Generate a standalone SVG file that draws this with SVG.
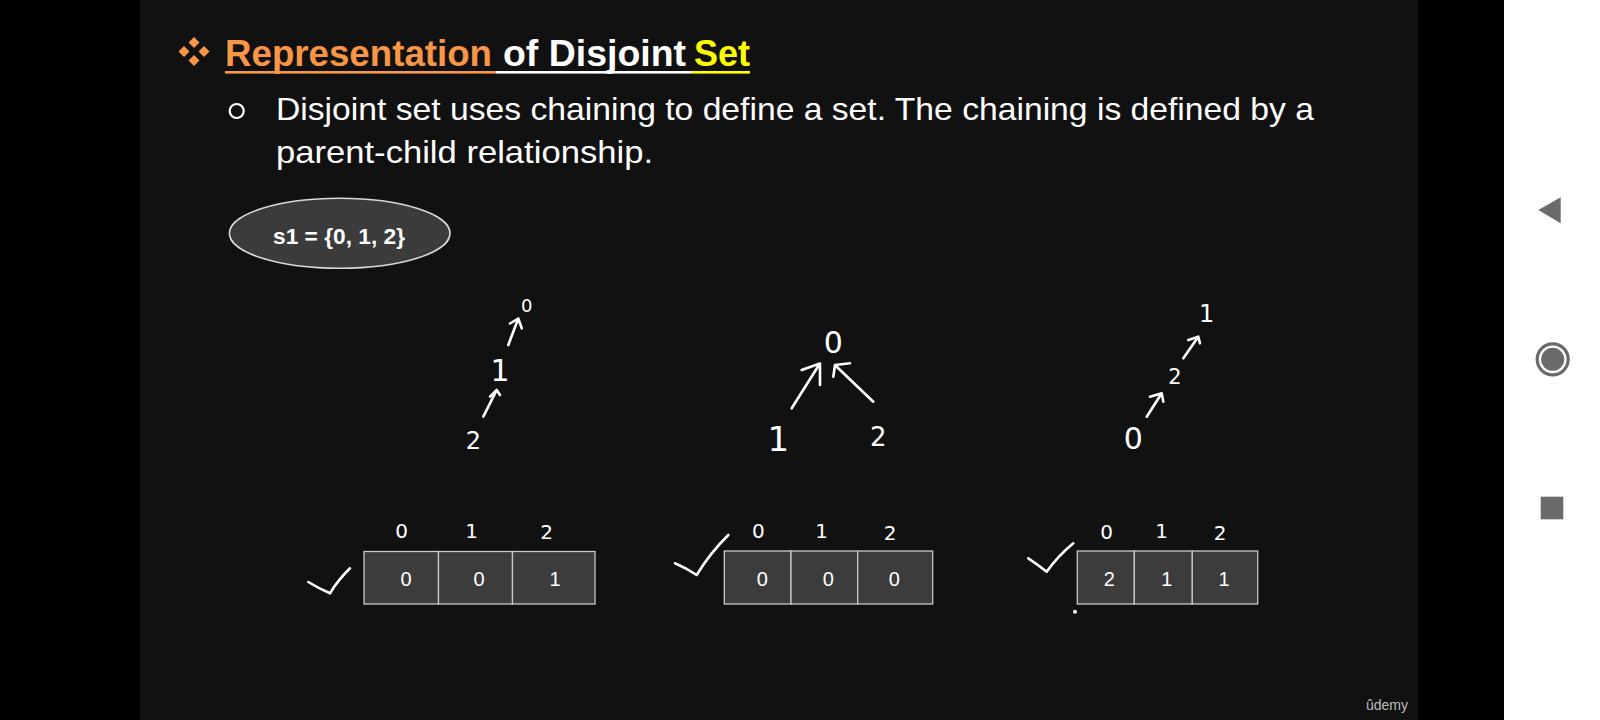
<svg xmlns="http://www.w3.org/2000/svg" width="1600" height="720" viewBox="0 0 1600 720">
  <defs>
    <style>
      .title { font-family: "Liberation Sans", Arial, sans-serif; font-weight: bold; font-size: 37px; }
      .body { font-family: "Liberation Sans", Arial, sans-serif; font-size: 32px; fill: #ffffff; }
      .cell { fill: #3c3c3c; stroke: #c8c8c8; stroke-width: 1.3; }
      .val { font-family: "Liberation Sans", Arial, sans-serif; font-size: 20px; fill: #ffffff; text-anchor: middle; }
      .hand { font-family: "DejaVu Sans", "Liberation Sans", sans-serif; fill: #ffffff; text-anchor: middle; font-weight: normal; }
      .ink { fill: none; stroke: #ffffff; stroke-width: 2.6; stroke-linecap: round; stroke-linejoin: round; }
      .nav { fill: #6a6a6a; }
      .dia { fill: #f79646; }
    </style>
  </defs>

  <!-- backgrounds -->
  <rect x="0" y="0" width="1600" height="720" fill="#000000"/>
  <rect x="140" y="0" width="1278" height="720" fill="#111111"/>
  <rect x="1504" y="0" width="96" height="720" fill="#ffffff"/>

  <!-- title -->
  <g id="title">
    <path class="dia" d="M194 37 L199.5 42.5 L194 48 L188.5 42.5 Z"/>
    <path class="dia" d="M184 46 L189.5 51.5 L184 57 L178.5 51.5 Z"/>
    <path class="dia" d="M204 46 L209.5 51.5 L204 57 L198.5 51.5 Z"/>
    <path class="dia" d="M194 55 L199.5 60.5 L194 66 L188.5 60.5 Z"/>
    <text class="title" x="225" y="66" fill="#f79646" textLength="267" lengthAdjust="spacingAndGlyphs">Representation</text>
    <text class="title" x="503" y="66" fill="#ffffff" textLength="183" lengthAdjust="spacingAndGlyphs">of Disjoint</text>
    <text class="title" x="694" y="66" fill="#ffff00" textLength="56" lengthAdjust="spacingAndGlyphs">Set</text>
    <rect x="225" y="71" width="271" height="2.6" fill="#f79646"/>
    <rect x="496" y="71" width="195" height="2.6" fill="#ffffff"/>
    <rect x="691" y="71" width="59" height="2.6" fill="#ffff00"/>
  </g>

  <!-- bullet text -->
  <g id="bullet">
    <circle cx="236.7" cy="111" r="7" fill="none" stroke="#ffffff" stroke-width="2.2"/>
    <text class="body" x="276" y="119.5" textLength="1038" lengthAdjust="spacingAndGlyphs">Disjoint set uses chaining to define a set. The chaining is defined by a</text>
    <text class="body" x="276" y="163" textLength="377" lengthAdjust="spacingAndGlyphs">parent-child relationship.</text>
  </g>

  <!-- set ellipse -->
  <g id="set-s1">
    <ellipse cx="339.7" cy="233.3" rx="110.3" ry="35" fill="#3b3b3b" stroke="#d9d9d9" stroke-width="1.6"/>
    <text x="339" y="244" font-family="Liberation Sans, Arial, sans-serif" font-weight="bold" font-size="22" fill="#ffffff" text-anchor="middle" textLength="132" lengthAdjust="spacingAndGlyphs">s1 = {0, 1, 2}</text>
  </g>

  <!-- tree 1 nodes -->
  <g id="tree1-n0"><text class="hand" x="526.7" y="311.5" font-size="18">0</text></g>
  <g id="tree1-n1"><text class="hand" x="500" y="381" font-size="30">1</text></g>
  <g id="tree1-n2"><text class="hand" x="473.3" y="448.5" font-size="24">2</text></g>

  <!-- tree 2 nodes -->
  <g id="tree2-n0"><text class="hand" x="833.3" y="352.5" font-size="30">0</text></g>
  <g id="tree2-n1"><text class="hand" x="778.3" y="451" font-size="34">1</text></g>
  <g id="tree2-n2"><text class="hand" x="878.3" y="445.5" font-size="26">2</text></g>

  <!-- tree 3 nodes -->
  <g id="tree3-n1"><text class="hand" x="1206.7" y="322" font-size="24">1</text></g>
  <g id="tree3-n2"><text class="hand" x="1175" y="384" font-size="21">2</text></g>
  <g id="tree3-n0"><text class="hand" x="1133.3" y="449" font-size="30">0</text></g>

  <!-- connectors (hand-drawn arrows) -->
  <g id="connectors" class="ink">
    <!-- tree 1 -->
    <path d="M508.3 345 L518.3 318.5 M510 323.5 L518.3 318.5 L521.7 328.3"/>
    <path d="M483.3 416.7 L496.7 390 M490 396.7 L496.7 390 L500 395"/>
    <!-- tree 2 -->
    <path d="M791.7 408.3 L818.3 366 M801.7 370 L820 363.5 L820 385"/>
    <path d="M873.3 401.7 L836.7 366.7 M850 363.3 L835 365 L833.3 376.7"/>
    <!-- tree 3 -->
    <path d="M1183.3 358.3 L1198.3 336.7 M1188.3 340 L1198.3 336.7 L1200 343.3"/>
    <path d="M1146.7 416.7 L1161.7 393.3 M1150 396.7 L1161.7 393.3 L1163.3 401.7"/>
  </g>

  <!-- array 1 -->
  <g id="array1">
    <rect class="cell" x="364" y="551.5" width="74.5" height="52.5"/>
    <rect class="cell" x="438.5" y="551.5" width="74" height="52.5"/>
    <rect class="cell" x="512.5" y="551.5" width="82.5" height="52.5"/>
    <text class="val" x="406" y="586">0</text>
    <text class="val" x="479" y="586">0</text>
    <text class="val" x="555" y="586">1</text>
    <text class="hand" x="401.7" y="537.5" font-size="20">0</text>
    <text class="hand" x="471.7" y="537.5" font-size="20">1</text>
    <text class="hand" x="546.7" y="539" font-size="20">2</text>
    <path class="ink" d="M308.3 582 Q318 588 330 593.3 Q338 580 350 568.3"/>
  </g>

  <!-- array 2 -->
  <g id="array2">
    <rect class="cell" x="724.3" y="551" width="66.7" height="53"/>
    <rect class="cell" x="791" y="551" width="66.7" height="53"/>
    <rect class="cell" x="857.7" y="551" width="75" height="53"/>
    <text class="val" x="762.3" y="586">0</text>
    <text class="val" x="828.3" y="586">0</text>
    <text class="val" x="894.3" y="586">0</text>
    <text class="hand" x="758.3" y="537.5" font-size="20">0</text>
    <text class="hand" x="821.7" y="537.5" font-size="20">1</text>
    <text class="hand" x="890" y="540" font-size="20">2</text>
    <path class="ink" d="M675 563.3 Q686 568 696.7 575 Q710 553 728.3 535"/>
  </g>

  <!-- array 3 -->
  <g id="array3">
    <rect class="cell" x="1077.3" y="551" width="57" height="53"/>
    <rect class="cell" x="1134.3" y="551" width="58" height="53"/>
    <rect class="cell" x="1192.3" y="551" width="65.4" height="53"/>
    <text class="val" x="1109.3" y="586">2</text>
    <text class="val" x="1166.7" y="586">1</text>
    <text class="val" x="1224" y="586">1</text>
    <text class="hand" x="1106.7" y="539" font-size="20">0</text>
    <text class="hand" x="1161.7" y="537.5" font-size="20">1</text>
    <text class="hand" x="1220" y="540" font-size="20">2</text>
    <path class="ink" d="M1028.3 558.3 Q1037 564 1046.7 571.7 Q1058 556 1073.3 543.3"/>
    <circle cx="1075" cy="611.7" r="2" fill="#ffffff"/>
  </g>

  <!-- footer logo -->
  <text x="1366" y="710" font-family="Liberation Sans, Arial, sans-serif" font-size="14" fill="#bdbdbd">ûdemy</text>

  <!-- phone nav bar -->
  <g id="nav">
    <path class="nav" d="M1538.3 210 L1560.7 197.3 L1560.7 223.3 Z"/>
    <circle cx="1552.7" cy="359.3" r="15.5" fill="none" stroke="#6a6a6a" stroke-width="3.2"/>
    <circle class="nav" cx="1552.7" cy="359.3" r="11.5"/>
    <rect class="nav" x="1540.7" y="496.7" width="22.6" height="22.6"/>
  </g>
</svg>
